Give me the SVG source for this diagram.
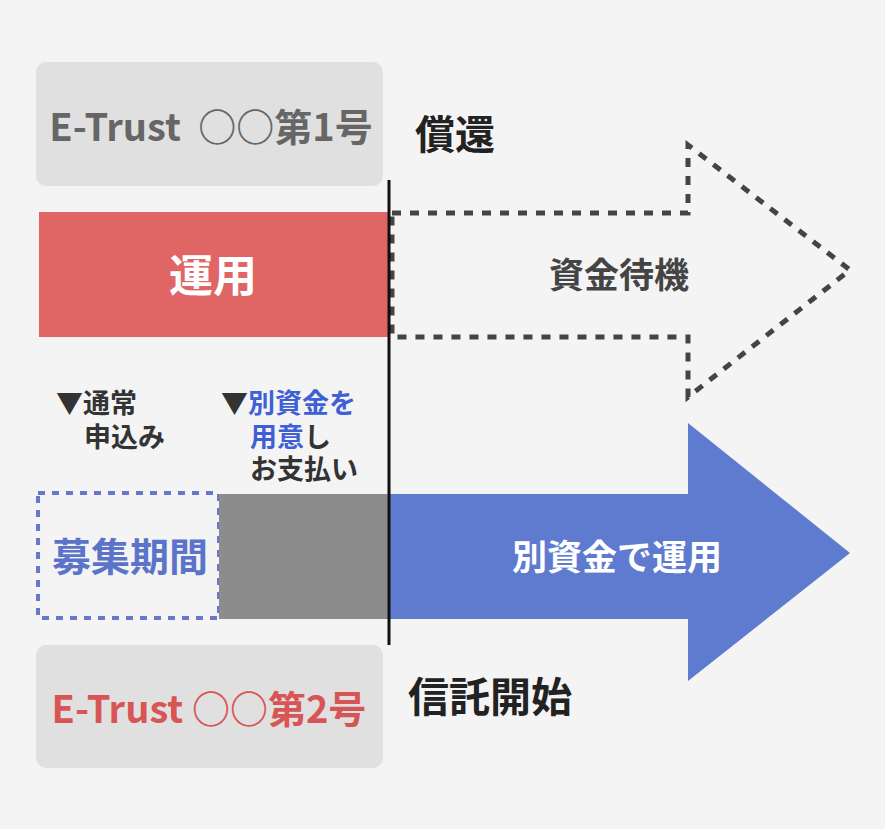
<svg xmlns="http://www.w3.org/2000/svg" width="885" height="829" viewBox="0 0 885 829">
<style>
text{font-family:"Noto Sans CJK JP","Noto Sans",sans-serif;font-weight:bold}
.box{fill:#e0e0e0}
.lbl{font-size:27px;fill:#333}
.b{fill:#3f5fd6}
</style>
<rect width="885" height="829" fill="#f4f4f4"/>
<g id="box1"><rect class="box" x="36" y="62" width="347" height="124" rx="10"/>
<text x="211" y="141" font-size="38" fill="#666" text-anchor="middle" xml:space="preserve">E-Trust  ○○第1号</text></g>
<g id="t-shokan"><text x="415" y="149" font-size="40" fill="#222">償還</text></g>
<g id="unyo"><rect x="39" y="212" width="350" height="125" fill="#e06666"/>
<text x="213" y="292" font-size="44" fill="#fff" text-anchor="middle">運用</text></g>
<g id="taiki"><path d="M392 213H688V145L850 270L688 397V337H392Z" fill="none" stroke="#444" stroke-width="5" stroke-dasharray="9 9"/>
<text x="619" y="288" font-size="35" fill="#444" text-anchor="middle">資金待機</text></g>
<g id="note1"><text class="lbl" x="56" y="413">▼通常</text><text class="lbl" x="84" y="447">申込み</text></g>
<g id="note2"><text class="lbl" x="221" y="413">▼<tspan class="b">別資金を</tspan></text>
<text class="lbl" x="250" y="447"><tspan class="b">用意</tspan>し</text>
<text class="lbl" x="250" y="479">お支払い</text></g>
<g id="boshu"><rect x="38" y="493" width="181" height="125" fill="none" stroke="#6677cc" stroke-width="4" stroke-dasharray="7 7"/>
<text x="130" y="571" font-size="39" fill="#5b74c9" text-anchor="middle">募集期間</text></g>
<g id="gray"><rect x="219" y="494" width="170" height="125" fill="#8c8c8c"/></g>
<g id="betsu"><path d="M389 494H688V423L850 553L688 681V619H389Z" fill="#5f7bd0"/>
<text x="617" y="570" font-size="35" fill="#fff" text-anchor="middle">別資金で運用</text></g>
<g id="box2"><rect class="box" x="36" y="645" width="347" height="123" rx="10"/>
<text x="209" y="723" font-size="38" fill="#d85555" text-anchor="middle">E-Trust ○○第2号</text></g>
<g id="t-kaishi"><text x="408" y="712" font-size="41" fill="#222">信託開始</text></g>
<g id="connectors"><line x1="389" y1="180" x2="389" y2="645" stroke="#111" stroke-width="3"/></g>
</svg>
